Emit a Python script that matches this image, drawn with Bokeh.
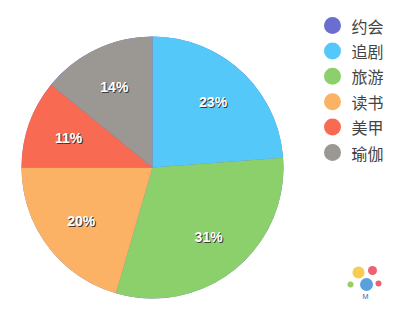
import numpy as np
from bokeh.plotting import figure
from bokeh.models import Range1d, ColumnDataSource
from bokeh.core.properties import value
from bokeh.embed import file_html
from bokeh.resources import INLINE

categories = ["约会", "追剧", "旅游", "读书", "美甲", "瑜伽"]
shares = [0.0, 23.8, 30.7, 20.5, 10.9, 14.1]
labels = ["", "23%", "31%", "20%", "11%", "14%"]
colors = ["#6a6fcf", "#55c8fa", "#8bd06a", "#fbb264", "#f86a52", "#9b9792"]

W, H = 400, 318
cx, cy, R = 152, H - 167, 131

p = figure(width=W, height=H, output_backend="svg", toolbar_location=None,
           x_range=Range1d(0, W), y_range=Range1d(0, H), min_border=0)
p.axis.visible = False
p.grid.visible = False
p.outline_line_color = None
p.background_fill_color = "white"
p.border_fill_color = "white"

vals = np.array(shares)
frac = vals / vals.sum()
cum_end = np.cumsum(frac)
cum_start = cum_end - frac
start = np.pi / 2 - 2 * np.pi * cum_start
end = np.pi / 2 - 2 * np.pi * cum_end
mid = (start + end) / 2

src = ColumnDataSource(dict(start=start, end=end, color=colors,
                            lx=cx + 0.68 * R * np.cos(mid),
                            ly=cy + 0.68 * R * np.sin(mid),
                            label=labels))
p.wedge(x=cx, y=cy, radius=R, start_angle="start", end_angle="end",
        direction="clock", fill_color="color", line_color=None, source=src)

for dx, dy, col in [(1, 1, "#3a3a3a"), (0, 0, "white")]:
    p.text(x="lx", y="ly", text="label", source=src, x_offset=dx, y_offset=dy,
           text_color=col, text_font=value("Liberation Sans"), text_font_style="bold",
           text_font_size="14px", text_align="center", text_baseline="middle")

# legend
ly = H - 25 - 25.4 * np.arange(len(categories))
lsrc = ColumnDataSource(dict(y=ly, color=colors, name=categories))
p.scatter(x=332, y="y", size=17, fill_color="color", line_color=None, source=lsrc)
p.text(x=351, y="y", text="name", source=lsrc, text_color="#444444",
       text_font=value("Noto Sans CJK SC"), text_font_size="16px",
       text_baseline="middle", text_align="left")

# small logo approximation
p.scatter(x=[358, 372, 366, 350, 378], y=[H - 272, H - 270, H - 284, H - 284, H - 283],
          size=[12, 9, 13, 6, 6], fill_color=["#f5c431", "#e8475e", "#3d8fd6", "#8bc34a", "#e8475e"],
          line_color=None, fill_alpha=0.85)
p.text(x=[365], y=[H - 296], text=["M"], text_color="#3d6fb6", text_font=value("Noto Sans"),
       text_font_size="7px", text_align="center", text_baseline="middle")

open("out.html", "w").write(file_html(p, INLINE))
